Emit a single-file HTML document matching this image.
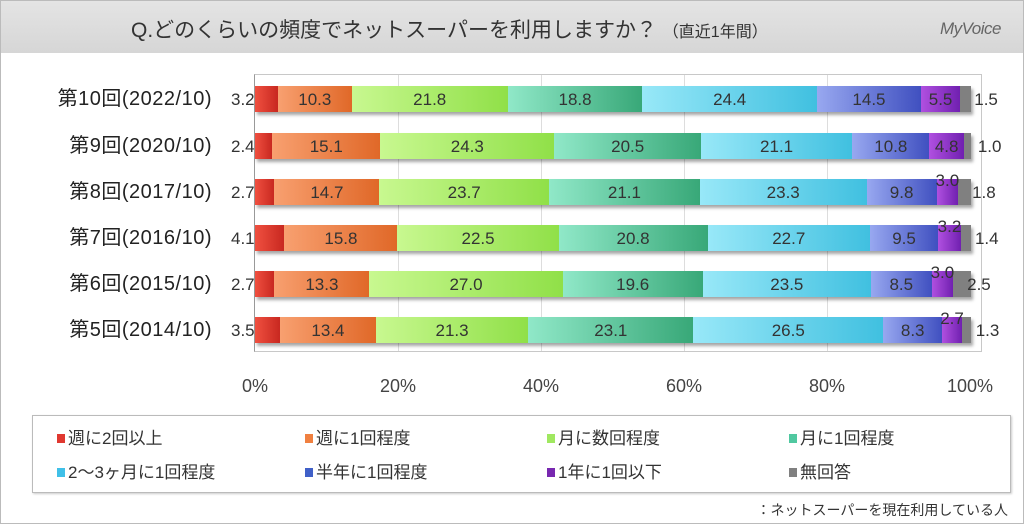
<!DOCTYPE html>
<html><head><meta charset="utf-8"><style>
body{margin:0;width:1024px;height:524px;background:#fff;overflow:hidden;font-family:"Liberation Sans","Noto Sans CJK JP",sans-serif;color:#333;position:relative}
.frame{position:absolute;left:0;top:0;width:1022px;height:522px;border:1px solid #bbb}
.title{position:absolute;left:1px;top:1px;width:1022px;height:52px;background:linear-gradient(#e4e4e4,#d6d6d6);}
.title .t{position:absolute;left:130px;top:13px;font-size:21px;color:#333;white-space:nowrap}
.title .t small{font-size:16px}
.logo{position:absolute;right:22px;top:18px;font-size:17px;color:#666;font-style:italic;letter-spacing:-0.5px}
.plot{position:absolute;left:254px;top:74px;width:726px;height:276px;border:1px solid #c8c8c8;border-left:1px solid #999}
.grid{position:absolute;top:0;height:276px;width:1px;background:#ddd}
.row{position:absolute;left:255px;width:716px;height:26px;display:flex;box-shadow:2px 3px 3px rgba(0,0,0,.35)}
.row div{position:relative;height:26px;font-size:17px;line-height:27px;text-align:center;white-space:nowrap}
.c1{background:linear-gradient(90deg,#f05040,#c82820)}
.c2{background:linear-gradient(90deg,#f8a070,#e06828)}
.c3{background:linear-gradient(90deg,#c8f890,#90e048)}
.c4{background:linear-gradient(90deg,#90e8c8,#38a878)}
.c5{background:linear-gradient(90deg,#98e8f8,#40c0e0)}
.c6{background:linear-gradient(90deg,#98a8f0,#4050c0)}
.c7{background:linear-gradient(90deg,#b050e0,#7020b0)}
.c8{background:#808080}
.row .c1{z-index:3}
.row .c1 span{position:absolute;left:-24px;top:0;z-index:5}
.row .c8 span{position:absolute;left:14px;top:0}
.row .up span{position:absolute;left:50%;top:-12px;transform:translateX(-50%);z-index:5}
.cat{position:absolute;left:0;width:212px;text-align:right;font-size:20px;line-height:26px;color:#222;letter-spacing:0.5px}
.ax{position:absolute;top:376px;font-size:18px;width:60px;text-align:center;margin-left:-30px;color:#444}
.legend{position:absolute;left:32px;top:415px;width:977px;height:76px;border:1px solid #bbb;box-shadow:1px 1px 2px #ccc}
.li{position:absolute;font-size:17px;white-space:nowrap}
.li i{display:inline-block;width:8px;height:9px;margin-right:3px;vertical-align:1px}
.foot{position:absolute;right:16px;top:500px;font-size:14px}
</style></head><body>
<div class="frame"></div>
<div class="title"><div class="t">Q.どのくらいの頻度でネットスーパーを利用しますか？ <small>（直近1年間）</small></div><div class="logo">MyVoice</div></div>
<div class="plot">
<div class="grid" style="left:143px"></div><div class="grid" style="left:286px"></div><div class="grid" style="left:429px"></div><div class="grid" style="left:572px"></div>
</div>

<div class="cat" style="top:86px">第10回(2022/10)</div>
<div class="row" style="top:86px"><div class="c1" style="flex:3.2"><span>3.2</span></div><div class="c2" style="flex:10.3">10.3</div><div class="c3" style="flex:21.8">21.8</div><div class="c4" style="flex:18.8">18.8</div><div class="c5" style="flex:24.4">24.4</div><div class="c6" style="flex:14.5">14.5</div><div class="c7" style="flex:5.5">5.5</div><div class="c8" style="flex:1.5"><span>1.5</span></div></div>

<div class="cat" style="top:133px">第9回(2020/10)</div>
<div class="row" style="top:133px"><div class="c1" style="flex:2.4"><span>2.4</span></div><div class="c2" style="flex:15.1">15.1</div><div class="c3" style="flex:24.3">24.3</div><div class="c4" style="flex:20.5">20.5</div><div class="c5" style="flex:21.1">21.1</div><div class="c6" style="flex:10.8">10.8</div><div class="c7" style="flex:4.8">4.8</div><div class="c8" style="flex:1.0"><span>1.0</span></div></div>

<div class="cat" style="top:179px">第8回(2017/10)</div>
<div class="row" style="top:179px"><div class="c1" style="flex:2.7"><span>2.7</span></div><div class="c2" style="flex:14.7">14.7</div><div class="c3" style="flex:23.7">23.7</div><div class="c4" style="flex:21.1">21.1</div><div class="c5" style="flex:23.3">23.3</div><div class="c6" style="flex:9.8">9.8</div><div class="c7 up" style="flex:3.0"><span>3.0</span></div><div class="c8" style="flex:1.8"><span>1.8</span></div></div>

<div class="cat" style="top:225px">第7回(2016/10)</div>
<div class="row" style="top:225px"><div class="c1" style="flex:4.1"><span>4.1</span></div><div class="c2" style="flex:15.8">15.8</div><div class="c3" style="flex:22.5">22.5</div><div class="c4" style="flex:20.8">20.8</div><div class="c5" style="flex:22.7">22.7</div><div class="c6" style="flex:9.5">9.5</div><div class="c7 up" style="flex:3.2"><span>3.2</span></div><div class="c8" style="flex:1.4"><span>1.4</span></div></div>

<div class="cat" style="top:271px">第6回(2015/10)</div>
<div class="row" style="top:271px"><div class="c1" style="flex:2.7"><span>2.7</span></div><div class="c2" style="flex:13.3">13.3</div><div class="c3" style="flex:27.0">27.0</div><div class="c4" style="flex:19.6">19.6</div><div class="c5" style="flex:23.5">23.5</div><div class="c6" style="flex:8.5">8.5</div><div class="c7 up" style="flex:3.0"><span>3.0</span></div><div class="c8" style="flex:2.5"><span>2.5</span></div></div>

<div class="cat" style="top:317px">第5回(2014/10)</div>
<div class="row" style="top:317px"><div class="c1" style="flex:3.5"><span>3.5</span></div><div class="c2" style="flex:13.4">13.4</div><div class="c3" style="flex:21.3">21.3</div><div class="c4" style="flex:23.1">23.1</div><div class="c5" style="flex:26.5">26.5</div><div class="c6" style="flex:8.3">8.3</div><div class="c7 up" style="flex:2.7"><span>2.7</span></div><div class="c8" style="flex:1.3"><span>1.3</span></div></div>

<div class="ax" style="left:255px">0%</div><div class="ax" style="left:398px">20%</div><div class="ax" style="left:541px">40%</div><div class="ax" style="left:684px">60%</div><div class="ax" style="left:827px">80%</div><div class="ax" style="left:970px">100%</div>

<div class="legend">
<div class="li" style="left:24px;top:8px"><i style="background:#e03830"></i>週に2回以上</div>
<div class="li" style="left:272px;top:8px"><i style="background:#f08040"></i>週に1回程度</div>
<div class="li" style="left:514px;top:8px"><i style="background:#a0e860"></i>月に数回程度</div>
<div class="li" style="left:756px;top:8px"><i style="background:#50c8a0"></i>月に1回程度</div>
<div class="li" style="left:24px;top:42px"><i style="background:#40c0e8"></i>2～3ヶ月に1回程度</div>
<div class="li" style="left:272px;top:42px"><i style="background:#4060c8"></i>半年に1回程度</div>
<div class="li" style="left:514px;top:42px"><i style="background:#7828b0"></i>1年に1回以下</div>
<div class="li" style="left:756px;top:42px"><i style="background:#808080"></i>無回答</div>
</div>
<div class="foot">：ネットスーパーを現在利用している人</div>
</body></html>
